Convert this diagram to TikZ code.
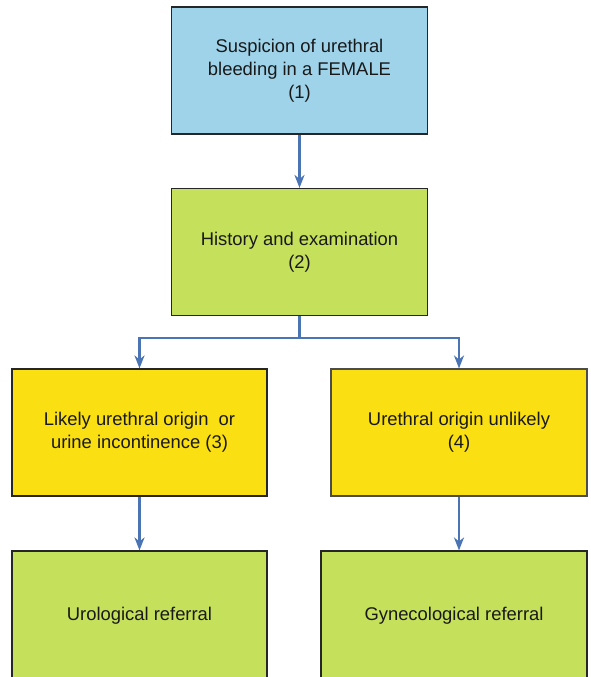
\documentclass[tikz,border=0pt]{standalone}
\usepackage{fontspec}
\setmainfont{Liberation Sans}
\usetikzlibrary{arrows.meta}
\definecolor{bluebox}{HTML}{9ED3EA}
\definecolor{greenbox}{HTML}{C5E05A}
\definecolor{yellowbox}{HTML}{FADF13}
\definecolor{arrowblue}{HTML}{4A74B4}
\tikzset{
  box/.style={draw=black!85, line width=1.1pt, minimum width=256pt, minimum height=127pt,
    inner sep=0pt, align=center, font=\fontsize{18.4}{23}\selectfont, text=black!90},
  arr/.style={draw=arrowblue, line width=2.4pt, -{Stealth[length=13pt,width=10pt,inset=4pt]}}
}
\begin{document}
\begin{tikzpicture}[x=1pt,y=-1pt]
\useasboundingbox (0,0) rectangle (591,677);
\begin{scope}
\clip (0,0) rectangle (591,677);
\node[box, fill=bluebox] (b1) at (299.5,70.5) {Suspicion of urethral\\bleeding in a FEMALE\\(1)};
\node[box, fill=greenbox] (b2) at (299.5,252) {History and examination\\(2)};
\node[box, fill=yellowbox, minimum width=255pt] (b3) at (139.5,432.5) {Likely urethral origin\ \ or\\urine incontinence (3)};
\node[box, fill=yellowbox, draw=black!70] (b4) at (459,432.5) {Urethral origin unlikely\\(4)};
\node[box, fill=greenbox, minimum width=255pt, minimum height=130pt] (b5) at (139.5,616) {Urological referral};
\node[box, fill=greenbox, minimum width=266pt, minimum height=130pt] (b6) at (454,616) {Gynecological referral};
\end{scope}
\draw[arr] (b1.south) -- (b2.north);
\coordinate (split) at (299.5,338);
\draw[arr] (b2.south) -- (split) -| (b3.north);
\draw[arr] (split) -| (b4.north);
\draw[arr] (b3.south) -- (b3.south |- b5.north);
\draw[arr] (b4.south) -- (b4.south |- b6.north);
\end{tikzpicture}
\end{document}
